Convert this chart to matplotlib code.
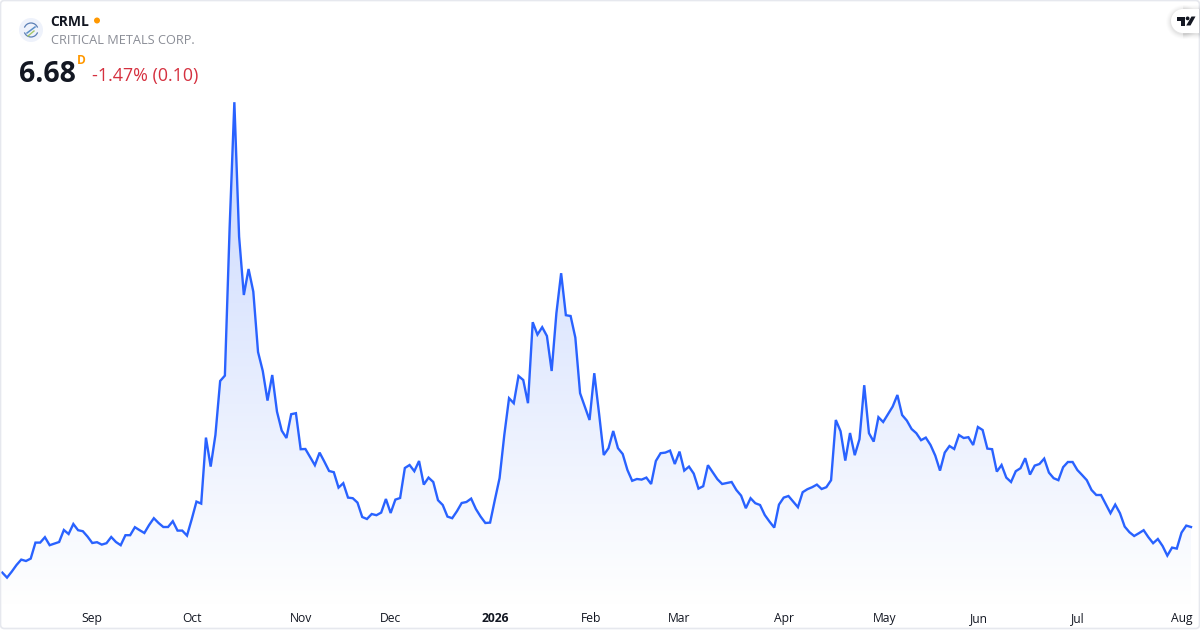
import matplotlib
matplotlib.use('Agg')
import matplotlib.pyplot as plt
import numpy as np
from matplotlib.patches import Circle, FancyBboxPatch, Polygon, Arc
from matplotlib.colors import LinearSegmentedColormap

plt.rcParams['font.family'] = ['Open Sans', 'DejaVu Sans']

# Closing prices
prices = [
    4.40, 4.15, 4.45, 4.78, 5.05, 4.98, 5.10, 5.90, 5.90, 6.17, 5.77, 5.85, 5.93, 6.53, 6.33, 6.83,
    6.52, 6.47, 6.20, 5.88, 5.92, 5.80, 5.87, 6.18, 5.93, 5.77, 6.27, 6.27, 6.67, 6.52, 6.38, 6.78,
    7.12, 6.88, 6.68, 6.68, 6.97, 6.50, 6.50, 6.25, 7.07, 7.95, 7.85, 11.15, 9.70, 11.28, 13.98, 14.25,
    21.63, 27.92, 21.20, 18.28, 19.58, 18.45, 15.43, 14.48, 13.00, 14.28, 12.45, 11.50, 11.13, 12.32,
    12.37, 10.57, 10.58, 10.17, 9.77, 10.40, 9.95, 9.48, 9.42, 8.65, 8.87, 8.15, 8.12, 7.90, 7.18, 7.08,
    7.33, 7.27, 7.40, 8.08, 7.38, 8.05, 8.13, 9.63, 9.78, 9.47, 9.98, 8.80, 9.15, 8.93, 8.02, 7.78,
    7.20, 7.12, 7.47, 7.88, 7.93, 8.10, 7.58, 7.20, 6.88, 6.90, 8.03, 9.12, 11.28, 13.12, 12.87, 14.23,
    14.03, 12.87, 16.92, 16.30, 16.67, 16.23, 14.48, 17.37, 19.37, 17.27, 17.23, 16.15, 13.37, 12.70,
    12.03, 14.37, 12.37, 10.28, 10.62, 11.48, 10.62, 10.33, 9.53, 8.99, 9.08, 9.05, 9.15, 8.83, 9.98,
    10.37, 10.40, 10.50, 9.83, 10.45, 9.50, 9.70, 9.35, 8.60, 8.72, 9.77, 9.42, 9.07, 8.83, 8.88, 8.93,
    8.53, 8.25, 7.62, 8.12, 7.87, 7.78, 7.28, 6.95, 6.65, 7.80, 8.15, 8.23, 7.95, 7.67, 8.42, 8.57,
    8.67, 8.80, 8.58, 8.67, 9.02, 12.03, 11.47, 10.00, 11.38, 10.27, 11.07, 13.77, 11.37, 10.95, 12.17,
    11.93, 12.32, 12.70, 13.28, 12.28, 12.00, 11.58, 11.37, 11.02, 11.15, 10.78, 10.25, 9.50, 10.40,
    10.73, 10.58, 11.28, 11.13, 11.17, 10.78, 11.68, 11.53, 10.60, 10.57, 9.45, 9.78, 9.15, 8.93, 9.47,
    9.62, 10.12, 9.30, 9.75, 9.83, 10.10, 9.40, 9.12, 9.02, 9.67, 9.93, 9.93, 9.53, 9.28, 9.02, 8.53,
    8.28, 8.28, 7.82, 7.37, 7.80, 7.37, 6.70, 6.42, 6.23, 6.37, 6.52, 6.17, 5.87, 6.08, 5.73, 5.25,
    5.65, 5.60, 6.40, 6.75, 6.68,
]
tick_labels = ['Sep', 'Oct', 'Nov', 'Dec', '2026', 'Feb', 'Mar', 'Apr', 'May', 'Jun', 'Jul', 'Aug']
tick_positions = [19, 40, 63, 82, 104, 124.4, 143, 165, 186.4, 206.2, 227.2, 249]

LINE = '#2962ff'
W, H = 1200, 630

n = len(prices)
x = np.arange(n)
step = (1191 - 2.3) / (n - 1)

fig = plt.figure(figsize=(12, 6.3), dpi=100, facecolor='white')

# chart area stops above the time scale
bottom_px = 605
ax = fig.add_axes([0, 1 - bottom_px / H, 1, bottom_px / H])
ax.set_xlim(-2.3 / step, (W - 2.3) / step)
ax.set_ylim(33.03 - 0.05 * bottom_px, 33.03)
for s in ax.spines.values():
    s.set_visible(False)
ax.set_yticks([])
ax.set_xticks(tick_positions, tick_labels)
ax.tick_params(axis='x', length=0, pad=5, labelsize=8.7, labelcolor='#131722')
for lbl in ax.get_xticklabels():
    if lbl.get_text() == '2026':
        lbl.set_fontweight('bold')

# gradient under the line, clipped to the area polygon
poly = ax.fill_between(x, prices, ax.get_ylim()[0], color='none')
cmap = LinearSegmentedColormap.from_list('area', ['#ffffff', '#c8d7fe'])
grad = ax.imshow(np.linspace(1, 0, 256).reshape(-1, 1), cmap=cmap, vmin=0, vmax=1, aspect='auto',
                 extent=(0, n - 1, ax.get_ylim()[0], max(prices)), zorder=1)
grad.set_clip_path(poly.get_paths()[0], transform=ax.transData)
ax.set_xlim(-2.3 / step, (W - 2.3) / step)
ax.plot(x, prices, color=LINE, lw=1.7, zorder=2, solid_joinstyle='miter')

# overlay in pixel coordinates for header, logos and card border
ov = fig.add_axes([0, 0, 1, 1], facecolor='none')
ov.set_xlim(0, W)
ov.set_ylim(H, 0)
ov.axis('off')

ov.add_patch(FancyBboxPatch((0.5, 0.5), W - 1, H - 2, boxstyle='round,pad=0,rounding_size=4',
                            fc='none', ec='#e6e8ee', lw=1.2))

# symbol logo
ov.add_patch(Circle((31, 30), 12, fc='#eef2fb', ec='none'))
ov.add_patch(Arc((31, 30), 14, 14, theta1=200, theta2=340, color='#5b7fb5', lw=0.9))
ov.add_patch(Arc((31, 30), 14, 14, theta1=20, theta2=160, color='#5b7fb5', lw=0.9))
ov.plot([27, 35], [33, 27], color='#5b8fc8', lw=1.1)
ov.plot([28, 34], [36, 31], color='#a5c76a', lw=1)

ov.text(50.5, 21.5, 'CRML', fontsize=10, fontweight='bold', color='#131722', va='center', ha='left')
ov.add_patch(Circle((97, 20.5), 3, fc='#ff9800', ec='none'))
ov.text(51, 40.5, 'CRITICAL METALS CORP.', fontsize=9.2, color='#8a8d96', va='center', ha='left')
ov.text(19, 74, '6.68', fontsize=20.5, fontweight='bold', color='#131722', va='center', ha='left')
ov.text(77, 61, 'D', fontsize=8.6, fontweight='bold', color='#ff9800', va='center', ha='left')
ov.text(92, 76.5, '-1.47% (0.10)', fontsize=12.9, color='#d5303f', va='center', ha='left')

# TradingView badge, soft shadow then white pill
for grow, a in [(5, 0.012), (4, 0.015), (3, 0.02), (2, 0.025), (1, 0.03)]:
    ov.add_patch(Circle((1183, 21 + 1), 12 + grow, fc='black', ec='none', alpha=a))
    ov.add_patch(Polygon([(1183, 10 - grow), (1200, 10 - grow), (1200, 34 + grow), (1183, 34 + grow)],
                         fc='black', ec='none', alpha=a))
ov.add_patch(Circle((1183, 21), 12, fc='white', ec='none'))
ov.add_patch(Polygon([(1183, 9), (1199, 9), (1199, 33), (1183, 33)], fc='white', ec='none'))
ov.add_patch(Polygon([(1177, 16.5), (1185, 16.5), (1185, 25.5), (1180.5, 25.5), (1180.5, 20.5), (1177, 20.5)],
                     fc='#131722', ec='none'))
ov.add_patch(Circle((1187.6, 18.4), 1.9, fc='#131722', ec='none'))
ov.add_patch(Polygon([(1191.5, 16.5), (1195.5, 16.5), (1190.5, 25.5), (1186.2, 25.5)], fc='#131722', ec='none'))

fig.savefig('out.png', dpi=100)
